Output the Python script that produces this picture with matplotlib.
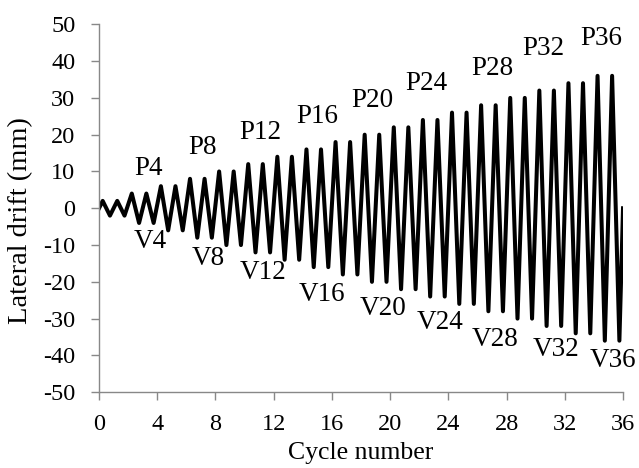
import matplotlib
matplotlib.use("Agg")
import matplotlib.pyplot as plt

# Amplitude (mm) of each loading cycle 1..36
amplitudes = [2, 2, 4, 4, 6, 6, 8, 8, 10, 10, 12, 12, 14, 14, 16, 16, 18, 18,
              20, 20, 22, 22, 24, 24, 26, 26, 28, 28, 30, 30, 32, 32, 34, 34, 36, 36]

peak_labels = ["P4", "P8", "P12", "P16", "P20", "P24", "P28", "P32", "P36"]
peak_label_x = [3.4, 7.1, 11.1, 15.0, 18.8, 22.5, 27.0, 30.5, 34.5]
peak_label_y = [10.9, 16.4, 20.5, 24.9, 29.2, 33.9, 38.0, 43.4, 46.2]

valley_labels = ["V4", "V8", "V12", "V16", "V20", "V24", "V28", "V32", "V36"]
valley_label_x = [3.5, 7.5, 11.3, 15.3, 19.5, 23.4, 27.2, 31.4, 35.3]
valley_label_y = [-9.0, -13.7, -17.5, -23.5, -27.3, -31.1, -35.8, -38.3, -41.3]

xticks = [0, 4, 8, 12, 16, 20, 24, 28, 32, 36]
yticks = [-50, -40, -30, -20, -10, 0, 10, 20, 30, 40, 50]

# build zigzag history
xs = [0.0]
ys = [0.0]
for i, a in enumerate(amplitudes):
    xs += [i + 0.25, i + 0.75]
    ys += [a, -a]
xs.append(len(amplitudes))
ys.append(0.0)

plt.rcParams['font.family'] = ['Liberation Serif', 'DejaVu Serif']
plt.rcParams['axes.unicode_minus'] = False

fig = plt.figure(figsize=(6.39, 4.68), dpi=100)
ax = fig.add_axes([0.155, 0.162, 0.82, 0.786])
ax.plot(xs, ys, color='black', lw=2.9, solid_joinstyle='round')

for t, x, y in zip(peak_labels, peak_label_x, peak_label_y):
    ax.text(x, y, t, ha='center', va='center', fontsize=19.5)
for t, x, y in zip(valley_labels, valley_label_x, valley_label_y):
    ax.text(x, y, t, ha='center', va='center', fontsize=19.5)

ax.set_xlim(0, 36)
ax.set_ylim(-50, 50)
ax.set_xticks(xticks)
ax.set_yticks(yticks)
ax.tick_params(labelsize=17.5, color='#888888', length=6, width=1)
ax.tick_params(axis='x', pad=10)
ax.tick_params(axis='y', pad=11)
for s in ['top', 'right']:
    ax.spines[s].set_visible(False)
for s in ['left', 'bottom']:
    ax.spines[s].set_color('#888888')
    ax.spines[s].set_linewidth(1)
ax.set_xlabel('Cycle number', fontsize=18.5, labelpad=5)
ax.set_ylabel('Lateral drift (mm)', fontsize=20.5)
ax.yaxis.set_label_coords(-0.126, 0.467)

fig.savefig('out.png', dpi=100)
